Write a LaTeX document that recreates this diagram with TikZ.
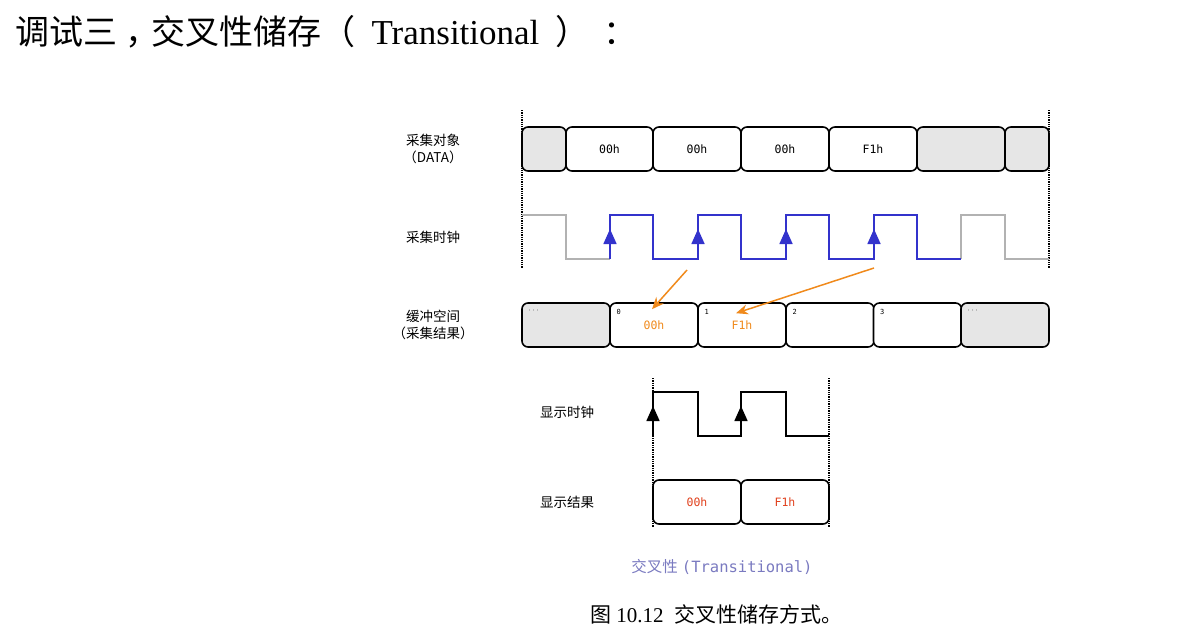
\documentclass[tikz,border=0pt]{standalone}
\usepackage{fontspec}
\setmainfont{Liberation Serif}
\newfontfamily\cjk{Noto Sans CJK SC}
\newfontfamily\mono{DejaVu Sans Mono}
\usetikzlibrary{arrows.meta}
\definecolor{clkblue}{HTML}{3333CC}
\definecolor{arrorange}{HTML}{F08A1C}
\definecolor{resred}{HTML}{E0401C}
\definecolor{capblue}{HTML}{7A7AC0}
\definecolor{cellgray}{HTML}{E6E6E6}
\tikzset{
  cell/.style={draw=black, line width=1.6pt, rounded corners=6pt, minimum height=44pt, inner sep=0pt, font=\mono\fontsize{11.5}{13}\selectfont},
  rowlabel/.style={font=\cjk\fontsize{13.5}{17}\selectfont, align=center},
  guide/.style={densely dotted, line width=1.3pt},
  edge/.style={-{Triangle[width=13pt,length=15pt]}}
}
\begin{document}
\begin{tikzpicture}[x=1pt,y=-1pt]
        \useasboundingbox (0,0) rectangle (1191,643);
        \node[anchor=west, font=\cjk\fontsize{34}{38}\selectfont] (title) at (12,32) {调试三\hspace{8pt}，\hspace{-8pt}交叉性储存（\hspace{16pt}{\rmfamily\fontsize{35}{38}\selectfont Transitional}\hspace{16pt}）\hspace{14pt}：};

        % sampled data
        \draw[guide] (522,110) -- (522,268);
        \draw[guide] (1049,110) -- (1049,268);
        \foreach \x/\w/\t/\f [count=\i] in {544/44//cellgray, 609.5/87/00h/white, 697/88/00h/white, 785/88/00h/white, 873/88/F1h/white, 961/88//cellgray, 1027/44//cellgray} {
                \node[cell, fill=\f, minimum width=\w pt] (data-\i) at (\x,149) {\t};
            }
        \node[rowlabel] (lbl-data) at (433,149) {采集对象\\（DATA）};

        % sampling clock
        \draw[gray!60, line width=1.6pt] (522,215) -- (566,215) -- (566,259) -- (610,259);
        \draw[gray!60, line width=1.6pt] (961,259) -- (961,215) -- (1005,215) -- (1005,259) -- (1049,259);
        \draw[clkblue, line width=1.6pt] (610,259) -- (610,215) -- (653,215) -- (653,259) -- (698,259) -- (698,215) -- (741,215) -- (741,259)
            -- (786,259) -- (786,215) -- (829,215) -- (829,259) -- (874,259) -- (874,215) -- (917,215) -- (917,259) -- (961,259);
        \foreach \x in {610,698,786,874} {
                \draw[edge, clkblue, line width=1.6pt] (\x,259) -- (\x,229);
            }
        \node[rowlabel] (lbl-clk) at (433,237) {采集时钟};

        % buffer
        \foreach \x/\t/\f [count=\i] in {566//cellgray, 654/00h/white, 742/F1h/white, 830//white, 917.5//white, 1005//cellgray} {
                \node[cell, fill=\f, minimum width=88pt, text=arrorange] (buf-\i) at (\x,325) {\raisebox{-3pt}{\t}};
            }
        \foreach \i in {1,6} {
                \node[font=\fontsize{8}{8}\selectfont, anchor=north west] at ([xshift=4pt,yshift=-3pt]buf-\i.north west) {$\cdots$};
            }
        \foreach \i/\n in {2/0,3/1,4/2,5/3} {
                \node[font=\mono\fontsize{7}{8}\selectfont, anchor=north west] at ([xshift=4pt,yshift=-4pt]buf-\i.north west) {\n};
            }
        \node[rowlabel] (lbl-buf) at (433,325) {缓冲空间\\（采集结果）};

        \coordinate (src-a) at (687,270);
        \coordinate (src-b) at (874,268);
        \draw[-{Stealth[length=12pt,width=10pt]}, arrorange, line width=1.5pt] (src-a) -- ([xshift=-2pt,yshift=-7pt]buf-2.north);
        \draw[-{Stealth[length=12pt,width=10pt]}, arrorange, line width=1.5pt] (src-b) -- ([xshift=-6pt,yshift=-11pt]buf-3.north);

        % display clock
        \draw[guide] (653,378) -- (653,527);
        \draw[guide] (829,378) -- (829,527);
        \draw[line width=1.6pt] (653,436) -- (653,392) -- (698,392) -- (698,436) -- (741,436) -- (741,392) -- (786,392) -- (786,436) -- (829,436);
        \foreach \x in {653,741} {
                \draw[edge, line width=1.6pt] (\x,436) -- (\x,406);
            }
        \node[rowlabel] (lbl-show) at (567,412) {显示时钟};

        % display result
        \node[cell, minimum width=88pt, text=resred] (res-1) at (697,502) {00h};
        \node[cell, minimum width=88pt, text=resred] (res-2) at (785,502) {F1h};
        \node[rowlabel] (lbl-res) at (567,502) {显示结果};

        \node[text=capblue, font=\fontsize{15.5}{17}\selectfont] (caption) at (722,567) {{\cjk 交叉性}\hspace{4pt}{\mono (Transitional)}};
        \node[font=\fontsize{21}{24}\selectfont] (fig) at (716,614) {{\cjk 图} 10.12\ \ {\cjk 交叉性储存方式。}};
    \end{tikzpicture}
\end{document}
